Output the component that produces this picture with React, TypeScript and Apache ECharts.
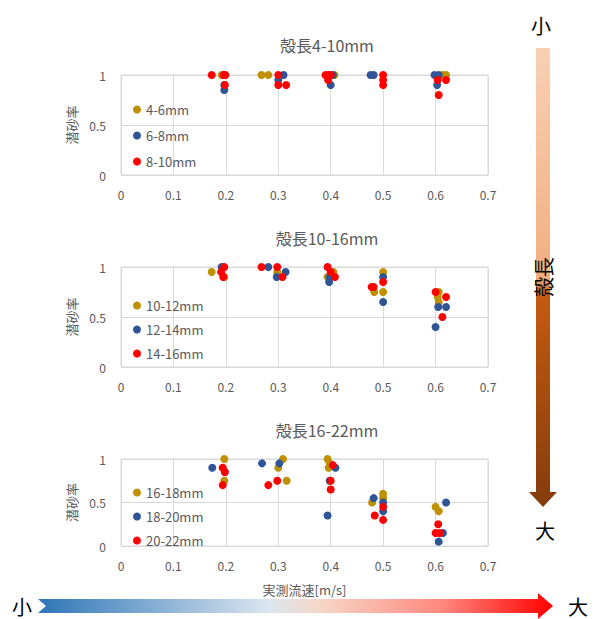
import React, { useEffect, useRef } from "react";
import * as echarts from "echarts";

// ---------- data ----------
const xTicks = [0, 0.1, 0.2, 0.3, 0.4, 0.5, 0.6, 0.7];
const yTicks = [0, 0.5, 1];
const panelTitles = ["殻長4-10mm", "殻長10-16mm", "殻長16-22mm"];
const seriesNames = [
  ["4-6mm", "6-8mm", "8-10mm"],
  ["10-12mm", "12-14mm", "14-16mm"],
  ["16-18mm", "18-20mm", "20-22mm"],
];
const xAxisName = "実測流速[m/s]";
const yAxisName = "潜砂率";

// panel 1 (4-10mm)
const s4to6: number[][] = [
  [0.192, 1], [0.197, 1], [0.268, 1], [0.281, 1], [0.407, 1], [0.613, 1], [0.62, 1],
];
const s6to8: number[][] = [
  [0.197, 0.9], [0.197, 0.85], [0.31, 1], [0.3, 0.95], [0.404, 1], [0.4, 0.9],
  [0.476, 1], [0.482, 1], [0.598, 1], [0.606, 1], [0.603, 0.9],
];
const s8to10: number[][] = [
  [0.173, 1], [0.196, 1], [0.199, 1], [0.198, 0.9], [0.3, 1], [0.3, 0.9], [0.315, 0.9],
  [0.39, 1], [0.396, 1], [0.4, 1], [0.395, 0.95], [0.5, 1], [0.5, 0.95], [0.5, 0.9],
  [0.604, 0.95], [0.62, 0.95], [0.606, 0.8],
];
// panel 2 (10-16mm)
const s10to12: number[][] = [
  [0.173, 0.95], [0.197, 0.9], [0.298, 0.95], [0.405, 0.95], [0.394, 0.9], [0.483, 0.75],
  [0.5, 0.95], [0.5, 0.75], [0.606, 0.75], [0.604, 0.7], [0.606, 0.65],
];
const s12to14: number[][] = [
  [0.192, 1], [0.281, 1], [0.297, 0.9], [0.314, 0.95], [0.398, 0.9], [0.397, 0.85],
  [0.5, 0.9], [0.5, 0.65], [0.605, 0.6], [0.62, 0.6], [0.6, 0.4],
];
const s14to16: number[][] = [
  [0.197, 1], [0.191, 0.95], [0.195, 0.9], [0.268, 1], [0.298, 1], [0.308, 0.9],
  [0.394, 1], [0.4, 0.95], [0.408, 0.9], [0.478, 0.8], [0.482, 0.8], [0.5, 0.85],
  [0.6, 0.75], [0.62, 0.7], [0.613, 0.5],
];
// panel 3 (16-22mm)
const s16to18: number[][] = [
  [0.197, 1], [0.197, 0.75], [0.3, 0.9], [0.309, 1], [0.316, 0.75], [0.394, 1],
  [0.398, 0.95], [0.396, 0.9], [0.479, 0.5], [0.5, 0.6], [0.5, 0.55], [0.6, 0.45], [0.606, 0.4],
];
const s18to20: number[][] = [
  [0.174, 0.9], [0.198, 0.85], [0.269, 0.95], [0.302, 0.95], [0.409, 0.9], [0.398, 0.75],
  [0.394, 0.35], [0.482, 0.55], [0.5, 0.5], [0.5, 0.4], [0.62, 0.5], [0.614, 0.15], [0.606, 0.05],
];
const s20to22: number[][] = [
  [0.194, 0.9], [0.198, 0.85], [0.194, 0.7], [0.281, 0.7], [0.298, 0.75], [0.404, 0.93],
  [0.4, 0.75], [0.4, 0.65], [0.484, 0.35], [0.5, 0.45], [0.5, 0.3], [0.605, 0.25],
  [0.6, 0.15], [0.608, 0.15],
];
const panelData = [
  [s4to6, s6to8, s8to10],
  [s10to12, s12to14, s14to16],
  [s16to18, s18to20, s20to22],
];
const seriesColors = ["#BF9000", "#2F5597", "#FF0000"];

const FONT = "'Noto Sans CJK JP', 'Noto Sans', sans-serif";
const GRAY = "#595959";

export default function App() {
  const ref = useRef<HTMLDivElement>(null);
  useEffect(() => {
    if (!ref.current) return;
    const chart = echarts.init(ref.current, undefined, { renderer: "svg" });

    const gridTops = [75, 267, 459];
    const gridHeights = [100, 100, 87];
    const grids = gridTops.map((t, i) => ({
      left: 121,
      top: t,
      width: 367,
      height: gridHeights[i],
      show: true,
      borderColor: "#D9D9D9",
      borderWidth: 1,
    }));

    const xAxes = gridTops.map((_, i) => ({
      type: "value",
      gridIndex: i,
      min: xTicks[0],
      max: xTicks[xTicks.length - 1],
      interval: 0.1,
      axisLine: { show: false },
      axisTick: { show: false },
      splitLine: { show: true, lineStyle: { color: "#D9D9D9" } },
      axisLabel: {
        color: GRAY,
        fontSize: 12,
        fontFamily: FONT,
        margin: 13,
        formatter: (v: number) => String(Math.round(v * 10) / 10),
      },
      name: i === 2 ? xAxisName : "",
      nameLocation: "middle",
      nameGap: 37,
      nameTextStyle: { color: GRAY, fontSize: 13, fontFamily: FONT },
    }));

    const yAxes = gridTops.map((_, i) => ({
      type: "value",
      gridIndex: i,
      min: yTicks[0],
      max: yTicks[yTicks.length - 1],
      interval: 0.5,
      axisLine: { show: false },
      axisTick: { show: false },
      splitLine: { show: true, lineStyle: { color: "#D9D9D9" } },
      axisLabel: {
        color: GRAY,
        fontSize: 12,
        fontFamily: FONT,
        margin: 15,
        formatter: (v: number) => String(v),
      },
      name: yAxisName,
      nameLocation: "middle",
      nameRotate: 90,
      nameGap: 40,
      nameTextStyle: { color: GRAY, fontSize: 13, fontFamily: FONT },
    }));

    const series: any[] = [];
    panelData.forEach((group, gi) => {
      group.forEach((data, si) => {
        series.push({
          type: "scatter",
          name: seriesNames[gi][si],
          xAxisIndex: gi,
          yAxisIndex: gi,
          data,
          symbol: "circle",
          symbolSize: 8,
          itemStyle: { color: seriesColors[si], opacity: 1 },
          emphasis: { disabled: true },
        });
      });
    });

    const legendTops = [98, 294, 481];
    const legendGaps = [13, 11, 11];
    const legends = legendTops.map((t, i) => ({
      orient: "vertical",
      left: 128,
      top: t,
      data: seriesNames[i],
      icon: "circle",
      itemWidth: 8,
      itemHeight: 8,
      itemGap: legendGaps[i],
      textStyle: { color: GRAY, fontSize: 13, fontFamily: FONT },
      selectedMode: false,
    }));

    const titleYs = [45, 238, 430];
    const graphics: any[] = titleYs.map((y, i) => ({
      type: "text",
      x: 327,
      y,
      style: {
        text: panelTitles[i],
        align: "center",
        verticalAlign: "middle",
        fill: GRAY,
        fontSize: 16,
        fontFamily: FONT,
      },
    }));

    // horizontal arrow (flow speed)
    graphics.push({
      type: "polygon",
      shape: {
        points: [
          [38, 599], [538, 599], [538, 593], [553, 606], [538, 619], [538, 613], [38, 613], [46, 606],
        ],
      },
      style: {
        fill: {
          type: "linear", x: 0, y: 0, x2: 1, y2: 0,
          colorStops: [
            { offset: 0, color: "#2E75B6" },
            { offset: 0.45, color: "#DCE6F0" },
            { offset: 0.55, color: "#F6D6C6" },
            { offset: 0.78, color: "#FF8A80" },
            { offset: 1, color: "#FF0000" },
          ],
        },
      },
    });
    graphics.push({
      type: "text", x: 22, y: 606,
      style: { text: "小", align: "center", verticalAlign: "middle", fill: "#000", fontSize: 20, fontFamily: FONT },
    });
    graphics.push({
      type: "text", x: 578, y: 606,
      style: { text: "大", align: "center", verticalAlign: "middle", fill: "#000", fontSize: 20, fontFamily: FONT },
    });

    // vertical arrow (shell length)
    graphics.push({
      type: "polygon",
      shape: {
        points: [
          [536, 48], [550, 48], [550, 492], [557, 492], [543, 507], [529, 492], [536, 492],
        ],
      },
      style: {
        fill: {
          type: "linear", x: 0, y: 0, x2: 0, y2: 1,
          colorStops: [
            { offset: 0, color: "#F9D0B4" },
            { offset: 0.5, color: "#F2AE80" },
            { offset: 0.54, color: "#C55A11" },
            { offset: 1, color: "#843C0C" },
          ],
        },
      },
    });
    graphics.push({
      type: "text", x: 541, y: 25,
      style: { text: "小", align: "center", verticalAlign: "middle", fill: "#000", fontSize: 20, fontFamily: FONT },
    });
    graphics.push({
      type: "text", x: 545, y: 530,
      style: { text: "大", align: "center", verticalAlign: "middle", fill: "#000", fontSize: 20, fontFamily: FONT },
    });
    graphics.push({
      type: "text", x: 543, y: 277, rotation: Math.PI / 2,
      style: { text: "殻長", align: "center", verticalAlign: "middle", fill: "#000", fontSize: 20, fontFamily: FONT },
    });

    chart.setOption({
      animation: false,
      backgroundColor: "#FFFFFF",
      textStyle: { fontFamily: FONT },
      grid: grids,
      xAxis: xAxes,
      yAxis: yAxes,
      legend: legends,
      series,
      graphic: graphics,
    });
    return () => chart.dispose();
  }, []);
  return (
    <div
      ref={ref}
      style={{ position: "fixed", left: 0, top: 0, width: 594, height: 619 }}
    />
  );
}
